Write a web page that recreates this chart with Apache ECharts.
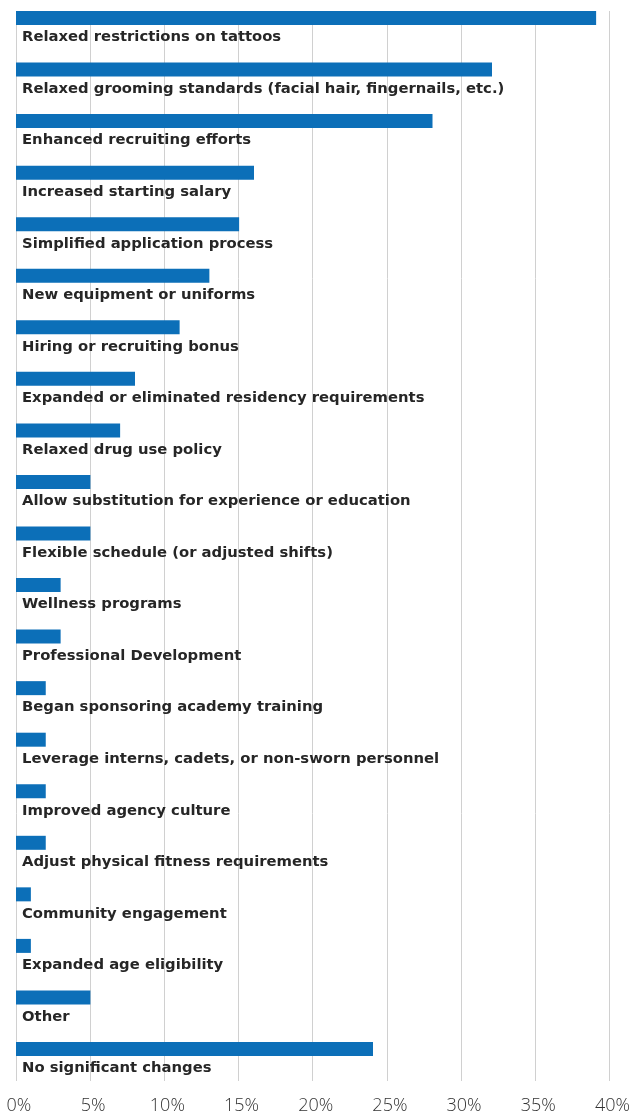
<!DOCTYPE html>
<html>
<head>
<meta charset="utf-8">
<script src="https://cdn.jsdelivr.net/npm/echarts@6/dist/echarts.min.js"></script>
<style>
  html, body { margin: 0; padding: 0; background: #fff; }
  #chart { width: 633px; height: 1115px; }
</style>
</head>
<body>
<div id="chart"></div>
<script>
// Changes made to recruitment / hiring practices (share of agencies)
const categories = [
  'Relaxed restrictions on tattoos',
  'Relaxed grooming standards (facial hair, fingernails, etc.)',
  'Enhanced recruiting efforts',
  'Increased starting salary',
  'Simplified application process',
  'New equipment or uniforms',
  'Hiring or recruiting bonus',
  'Expanded or eliminated residency requirements',
  'Relaxed drug use policy',
  'Allow substitution for experience or education',
  'Flexible schedule (or adjusted shifts)',
  'Wellness programs',
  'Professional Development',
  'Began sponsoring academy training',
  'Leverage interns, cadets, or non-sworn personnel',
  'Improved agency culture',
  'Adjust physical fitness requirements',
  'Community engagement',
  'Expanded age eligibility',
  'Other',
  'No significant changes'
];
const values = [39, 32, 28, 16, 15, 13, 11, 8, 7, 5, 5, 3, 3, 2, 2, 2, 2, 1, 1, 5, 24];
const xTicks = [0, 5, 10, 15, 20, 25, 30, 35, 40];

const BAR_COLOR = '#0c6fb8';
const TEXT_COLOR = '#262626';

const chart = echarts.init(document.getElementById('chart'), null, { renderer: 'canvas' });

chart.setOption({
  animation: false,
  backgroundColor: '#ffffff',
  grid: [
    // grid 0: vertical gridlines and percentage ticks
    { left: 16, right: 22, top: 11, bottom: 27, containLabel: false },
    // grid 1: the bars, one category band per row
    { left: 16, right: 22, top: 0, bottom: 32.45, containLabel: false }
  ],
  xAxis: [
    {
      gridIndex: 0,
      type: 'value',
      min: xTicks[0],
      max: xTicks[xTicks.length - 1],
      interval: 5,
      axisLine: { show: false },
      axisTick: { show: false },
      splitLine: { show: true, lineStyle: { color: '#d0d0d0', width: 1 } },
      axisLabel: {
        margin: 16,
        color: '#333',
        fontFamily: 'Open Sans',
        fontWeight: 300,
        fontSize: 18,
        padding: [0, 0, 0, 6],
        formatter: v => v + '%'
      }
    },
    {
      gridIndex: 1,
      type: 'value',
      min: xTicks[0],
      max: xTicks[xTicks.length - 1],
      show: false
    }
  ],
  yAxis: [
    {
      gridIndex: 0,
      type: 'value',
      show: false
    },
    {
      gridIndex: 1,
      type: 'category',
      inverse: true,
      data: categories,
      show: false
    }
  ],
  series: [
    {
      type: 'bar',
      xAxisIndex: 1,
      yAxisIndex: 1,
      data: values,
      barWidth: 14,
      barGap: '11.1%',
      itemStyle: { color: BAR_COLOR },
      label: {
        show: true,
        position: [6, 26.5],
        align: 'left',
        verticalAlign: 'middle',
        formatter: p => p.name,
        color: TEXT_COLOR,
        fontFamily: 'DejaVu Sans',
        fontWeight: 'bold',
        fontSize: 14.8
      }
    },
    {
      // empty spacer series: lifts each bar toward the top of its row
      type: 'bar',
      xAxisIndex: 1,
      yAxisIndex: 1,
      data: categories.map(() => '-'),
      barWidth: 14,
      silent: true
    }
  ]
});
</script>
</body>
</html>
